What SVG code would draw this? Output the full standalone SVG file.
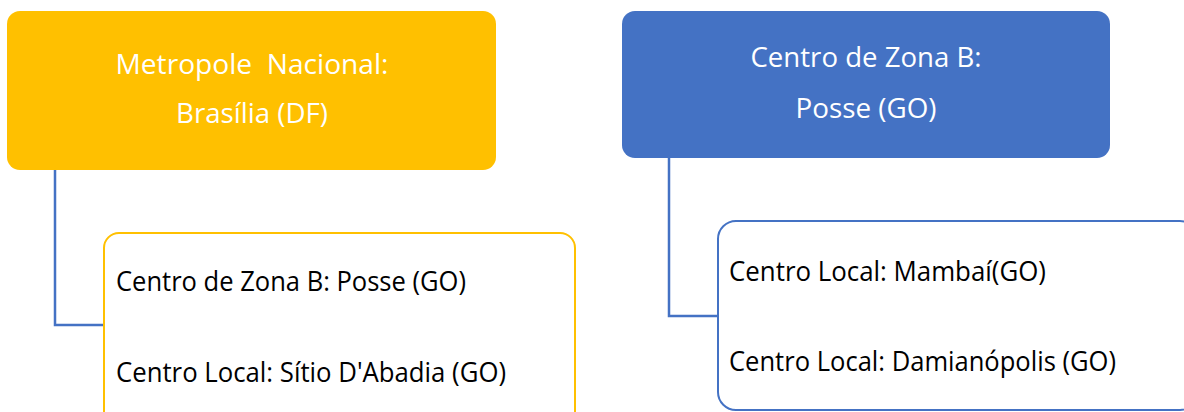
<svg xmlns="http://www.w3.org/2000/svg" width="1184" height="412" viewBox="0 0 1184 412">
  <style>
    .top-gold { fill: #FFC000; }
    .top-blue { fill: #4472C4; }
    .child { fill: #FFFFFF; stroke-width: 2; }
    .child-gold { stroke: #FFC000; }
    .child-blue { stroke: #4472C4; }
    .link { fill: none; stroke: #4472C4; stroke-width: 2.5; }
    text { font-family: "Open Sans", "Noto Sans", "Liberation Sans", sans-serif; font-size: 27px; white-space: pre; }
    .head { fill: #FFFFFF; text-anchor: middle; }
    .item { fill: #000000; }
  </style>
  <rect width="1184" height="412" fill="#FFFFFF"/>

  <!-- connectors -->
  <g id="connectors">
    <path class="link" d="M55 170 V325 H104"/>
    <path class="link" d="M669 158 V316 H718"/>
  </g>

  <g id="metropole">
    <rect class="top-gold" x="7" y="11" width="489" height="159" rx="13"/>
    <text class="head" x="252" y="74" textLength="273" lengthAdjust="spacingAndGlyphs" xml:space="preserve">Metropole  Nacional:</text>
    <text class="head" x="252" y="123" textLength="152" lengthAdjust="spacingAndGlyphs">Brasília (DF)</text>
  </g>

  <g id="metropole-children">
    <rect class="child child-gold" x="104" y="233" width="471" height="200" rx="15"/>
    <text class="item" x="116" y="291" textLength="350" lengthAdjust="spacingAndGlyphs">Centro de Zona B: Posse (GO)</text>
    <text class="item" x="116" y="382" textLength="390" lengthAdjust="spacingAndGlyphs">Centro Local: Sítio D'Abadia (GO)</text>
  </g>

  <g id="posse">
    <rect class="top-blue" x="622" y="11" width="488" height="147" rx="13"/>
    <text class="head" x="866" y="67" textLength="231" lengthAdjust="spacingAndGlyphs">Centro de Zona B:</text>
    <text class="head" x="866" y="118" textLength="141" lengthAdjust="spacingAndGlyphs">Posse (GO)</text>
  </g>

  <g id="posse-children">
    <rect class="child child-blue" x="718" y="221" width="480" height="189" rx="18"/>
    <text class="item" x="729" y="281" textLength="317" lengthAdjust="spacingAndGlyphs">Centro Local: Mambaí(GO)</text>
    <text class="item" x="729" y="371" textLength="387" lengthAdjust="spacingAndGlyphs">Centro Local: Damianópolis (GO)</text>
  </g>
</svg>
